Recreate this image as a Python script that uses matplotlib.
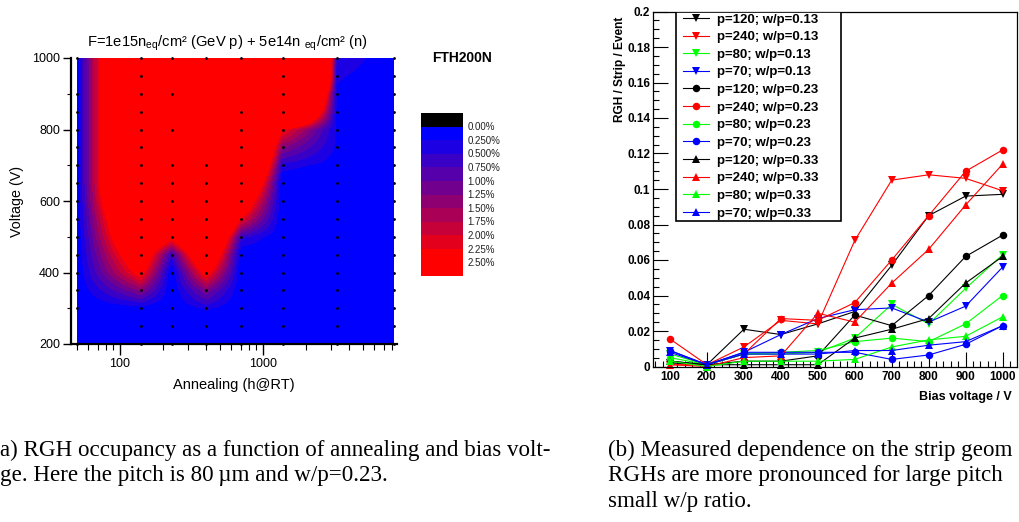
import numpy as np
import matplotlib
matplotlib.use('Agg')
import matplotlib.pyplot as plt
import matplotlib.patches as patches
from matplotlib.colors import ListedColormap, BoundaryNorm
from matplotlib.ticker import MultipleLocator, LogLocator, NullFormatter, FuncFormatter

plt.rcParams['font.family'] = ['Liberation Sans', 'DejaVu Sans']
plt.rcParams['mathtext.fontset'] = 'custom'
plt.rcParams['mathtext.rm'] = 'Liberation Sans'
plt.rcParams['mathtext.it'] = 'Liberation Sans:italic'
plt.rcParams['mathtext.bf'] = 'Liberation Sans:bold'

# ---------------- left: RGH occupancy map (values in %) ----------------
anneal_h = [50, 140, 230, 400, 700, 1370, 3270, 8280]
voltages = [200, 250, 300, 350, 400, 450, 500, 550, 600, 650, 700, 750, 800, 850, 900, 950, 1000]

occ = [
    [0, 0, 0, 0, 0, 0, 0, 0, 0, 0, 0, 0, 0, 0, 0, 0, 0],                            # 50 h
    [0, 0, 0.1, 1.3, 2.6, 3.4, 4.3, 5, 6, 6.5, 6.5, 6.5, 6.5, 6.5, 6.5, 6.5, 6.5],  # 140 h
    [0, 0, 0, 0, 0, 0.6, 2.8, 5, 6.5, 6.5, 6.5, 6.5, 6.5, 6.5, 6.5, 6.5, 6.5],      # 230 h
    [0, 0, 0.3, 1.2, 2.6, 4, 5.5, 6.5, 6.5, 6.5, 6.5, 6.5, 6.5, 6.5, 6.5, 6.5, 6.5],  # 400 h
    [0, 0, 0, 0, 0, 0, 0.6, 2.2, 3.5, 5, 7, 7, 7, 7, 7, 7, 7],                       # 700 h
    [0, 0, 0, 0, 0, 0, 0, 0, 0, 0, 0.4, 1.3, 2.4, 8, 12, 20, 20],                    # 1370 h
    [0, 0, 0, 0, 0, 0, 0, 0, 0, 0, 0.1, 0.2, 0.2, 0.2, 0.2, 0.3, 0.5],              # 3270 h
    [0, 0, 0, 0, 0, 0, 0, 0, 0, 0, 0, 0, 0, 0, 0, 0, 0],                            # 8280 h
]

# measured points (voltages) per annealing step
meas_v = [
    [200, 300, 350, 400, 450, 500, 550, 600, 650, 700, 750, 800, 850, 900, 1000],
    voltages,
    [200, 250, 300, 350, 400, 450, 500, 550, 600, 650, 700, 800, 900, 1000],
    [200, 250, 300, 350, 400, 450, 500, 550, 600, 650, 700, 1000],
    [200, 250, 300, 350, 400, 450, 500, 550, 600, 650, 700, 750, 800, 850, 1000],
    voltages,
    voltages,
    voltages,
]

levels = [0, 0.25, 0.5, 0.75, 1.0, 1.25, 1.5, 1.75, 2.0, 2.25]
level_labels = ['0.00%', '0.250%', '0.500%', '0.750%', '1.00%', '1.25%',
                '1.50%', '1.75%', '2.00%', '2.25%', '2.50%']

# ---------------- right: RGH vs bias voltage ----------------
bias = [100, 200, 300, 400, 500, 600, 700, 800, 900, 1000]
pitches = [120, 240, 80, 70]
wp_ratios = ['0.13', '0.23', '0.33']
rgh = {
    ('0.13', 120): [0.002, 0.001, 0.021, 0.018, 0.024, 0.031, 0.057, 0.085, 0.096, 0.097],
    ('0.13', 240): [0.001, 0.001, 0.011, 0.026, 0.024, 0.071, 0.105, 0.108, 0.106, 0.099],
    ('0.13', 80):  [0.007, 0.001, 0.007, 0.007, 0.008, 0.016, 0.035, 0.024, 0.044, 0.063],
    ('0.13', 70):  [0.009, 0.001, 0.008, 0.018, 0.027, 0.032, 0.033, 0.025, 0.034, 0.056],
    ('0.23', 120): [0.003, 0.001, 0.003, 0.003, 0.006, 0.029, 0.023, 0.040, 0.062, 0.074],
    ('0.23', 240): [0.0155, 0.001, 0.007, 0.027, 0.026, 0.036, 0.060, 0.085, 0.110, 0.122],
    ('0.23', 80):  [0.005, 0.001, 0.007, 0.008, 0.009, 0.014, 0.016, 0.014, 0.024, 0.040],
    ('0.23', 70):  [0.009, 0.001, 0.008, 0.008, 0.008, 0.008, 0.004, 0.0065, 0.0125, 0.023],
    ('0.33', 120): [0.003, 0.001, 0.001, 0.001, 0.001, 0.016, 0.021, 0.027, 0.047, 0.062],
    ('0.33', 240): [0.001, 0.000, 0.005, 0.006, 0.030, 0.025, 0.047, 0.066, 0.091, 0.114],
    ('0.33', 80):  [0.003, 0.000, 0.003, 0.003, 0.003, 0.004, 0.011, 0.015, 0.017, 0.028],
    ('0.33', 70):  [0.008, 0.001, 0.007, 0.007, 0.007, 0.009, 0.009, 0.012, 0.014, 0.023],
}
pitch_colors = {120: 'black', 240: '#ff0000', 80: '#00ff00', 70: '#0000ff'}
wp_markers = {'0.13': 'v', '0.23': 'o', '0.33': '^'}

W, H = 1019, 522
fig = plt.figure(figsize=(W / 100, H / 100), dpi=100)


def box(l, t, r, b):
    return [l / W, 1 - b / H, (r - l) / W, (b - t) / H]


# ---- left map: bilinear interpolation in log(annealing) x voltage ----
ax1 = fig.add_axes(box(71, 58, 397, 344))
lx_data = np.log10(anneal_h)
nx, ny = 320, 290
lx_e = np.linspace(lx_data[0], lx_data[-1], nx + 1)
v_e = np.linspace(voltages[0], voltages[-1], ny + 1)
lx_c = 0.5 * (lx_e[1:] + lx_e[:-1])
v_c = 0.5 * (v_e[1:] + v_e[:-1])
occ_arr = np.array(occ, dtype=float)
cols = np.array([np.interp(v_c, voltages, occ_arr[j]) for j in range(len(anneal_h))])
Z = np.array([np.interp(lx_c, lx_data, cols[:, i]) for i in range(ny)])

n = len(levels)
colors = [(k / (n - 1), 0, 1 - k / (n - 1)) for k in range(n)]
cmap = ListedColormap(colors)
norm = BoundaryNorm(levels + [1e9], ncolors=n)
ax1.pcolormesh(10 ** lx_e, v_e, Z, cmap=cmap, norm=norm, shading='flat')

for h, vs in zip(anneal_h, meas_v):
    ax1.plot([h] * len(vs), vs, 'o', color='black', ms=2.0, mew=0, clip_on=False, zorder=5)

ax1.set_xscale('log')
ax1.set_xlim(45.4, 8650)
ax1.set_ylim(200, 1000)
ax1.set_xticks([100, 1000])
ax1.set_xticklabels(['100', '1000'])
ax1.xaxis.set_minor_locator(LogLocator(subs=range(2, 10)))
ax1.xaxis.set_minor_formatter(NullFormatter())
ax1.set_yticks([200, 400, 600, 800, 1000])
ax1.yaxis.set_minor_locator(MultipleLocator(100))
ax1.tick_params(which='major', direction='out', length=6, width=1, labelsize=9, pad=2)
ax1.tick_params(which='minor', direction='out', length=3, width=0.8)
ax1.tick_params(axis='x', which='major', length=8)
ax1.tick_params(axis='x', which='minor', length=4)
for s in ['top', 'right']:
    ax1.spines[s].set_visible(False)
for s in ['left', 'bottom']:
    ax1.spines[s].set_linewidth(1.6)
ax1.set_xlabel('Annealing (h@RT)', fontsize=10.5, labelpad=6)
ax1.set_ylabel('Voltage (V)', fontsize=10.3, labelpad=6)

fig.text(228 / W, 1 - 43 / H,
         r'F=1e15n$_{\mathrm{eq}}$/cm² (GeV p) + 5e14n $_{\mathrm{eq}}$/cm² (n)',
         ha='center', va='center', fontsize=10.6)
fig.text(462 / W, 1 - 58 / H, 'FTH200N', ha='center', va='center',
         fontsize=10, fontweight='bold')

# palette box
cax = fig.add_axes(box(421, 113, 463, 276))
pal_colors = ['black'] + colors
pal_heights = [1] * n + [2]
top = sum(pal_heights)
y = top
for c, hgt in zip(pal_colors, pal_heights):
    cax.bar(0.5, hgt, bottom=y - hgt, width=1, color=c, linewidth=0)
    y -= hgt
cax.set_xlim(0, 1)
cax.set_ylim(0, top)
cax.axis('off')
for k, lab in enumerate(level_labels):
    cax.text(1.1, top - 1 - k - 0.05, lab, ha='left', va='center', fontsize=7, color='#222222')

# ---- right graph ----
ax2 = fig.add_axes(box(653, 11.5, 1017, 366.5))
for wp in wp_ratios:
    for p in pitches:
        ax2.plot(bias, rgh[(wp, p)], color=pitch_colors[p], marker=wp_markers[wp],
                 ms=5.4, lw=0.8, mew=0, label=f'p={p}; w/p={wp}', clip_on=False)
ax2.set_xlim(54, 1039)
ax2.set_ylim(0, 0.2)
ax2.xaxis.set_major_locator(MultipleLocator(100))
ax2.xaxis.set_minor_locator(MultipleLocator(20))
ax2.yaxis.set_major_locator(MultipleLocator(0.02))
ax2.yaxis.set_minor_locator(MultipleLocator(0.005))
ax2.yaxis.set_major_formatter(FuncFormatter(lambda v, pos: f'{v:g}'))
ax2.tick_params(which='major', direction='in', length=10.5, width=0.8, labelsize=8.5, pad=2)
ax2.tick_params(which='minor', direction='in', length=4.3, width=0.8)
ax2.tick_params(axis='x', which='major', pad=3)
for lab in ax2.get_xticklabels() + ax2.get_yticklabels():
    lab.set_fontweight('bold')
for s in ax2.spines.values():
    s.set_linewidth(0.9)

leg_frame = patches.Rectangle((0.063, 0.41), 0.453, 0.59, transform=ax2.transAxes,
                              facecolor='white', edgecolor='black', lw=1.2, zorder=8)
ax2.add_patch(leg_frame)
leg = ax2.legend(loc='upper left', bbox_to_anchor=(0.082, 0.995), frameon=False,
                 borderpad=0, borderaxespad=0, handlelength=2.0, handletextpad=0.6,
                 labelspacing=0.41, prop={'weight': 'bold', 'size': 9.5})
leg.set_zorder(9)

fig.text(620 / W, 1 - 17 / H, 'RGH / Strip / Event', rotation=90, ha='center', va='top',
         fontsize=8.6, fontweight='bold')
fig.text(1012 / W, 1 - 397 / H, 'Bias voltage / V', ha='right', va='center',
         fontsize=9, fontweight='bold')

# ---- captions (as far as they are visible in the page crop) ----
serif = ['Liberation Serif', 'DejaVu Serif']
cap_size = 16.6
fig.text(0, 1 - 450 / H, 'a) RGH occupancy as a function of annealing and bias volt-',
         ha='left', va='center', fontsize=cap_size, family=serif)
fig.text(0, 1 - 476 / H, 'ge. Here the pitch is 80\u2009µm and w/p=0.23.',
         ha='left', va='center', fontsize=cap_size, family=serif)
fig.text(608 / W, 1 - 450 / H, '(b) Measured dependence on the strip geom',
         ha='left', va='center', fontsize=cap_size, family=serif)
fig.text(608 / W, 1 - 476 / H, 'RGHs are more pronounced for large pitch',
         ha='left', va='center', fontsize=cap_size, family=serif)
fig.text(608 / W, 1 - 501 / H, 'small w/p ratio.',
         ha='left', va='center', fontsize=cap_size, family=serif)

fig.savefig('out.png', dpi=100)
